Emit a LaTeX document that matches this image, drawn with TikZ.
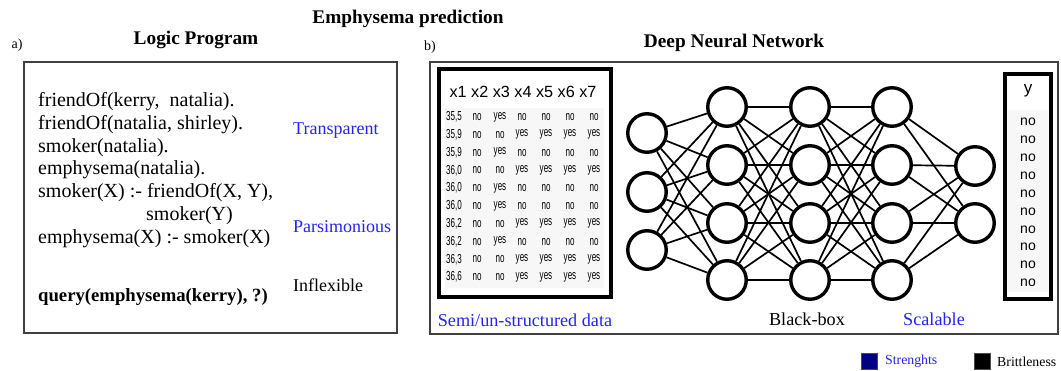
\documentclass[tikz,border=0pt]{standalone}
\usepackage{fontspec}
\setmainfont{Liberation Serif}
\newfontfamily\tabfont{Liberation Sans}
\definecolor{strength}{RGB}{35,35,245}
\definecolor{navybox}{RGB}{0,0,130}
\definecolor{cellbg}{RGB}{247,247,247}
\tikzset{
  title/.style={font=\bfseries\fontsize{19.3}{22}\selectfont, inner sep=0pt},
  panellabel/.style={font=\fontsize{14}{16}\selectfont, inner sep=0pt},
  panel/.style={draw=black!75, line width=1.1pt},
  code/.style={font=\fontsize{20}{23}\selectfont, anchor=west, inner sep=0pt},
  tag/.style={font=\fontsize{18}{21}\selectfont, anchor=west, inner sep=0pt},
  good/.style={tag, text=strength},
  datafrm/.style={draw=black, line width=3.6pt},
  hdr/.style={font=\tabfont\fontsize{16.2}{19}\selectfont, inner sep=0pt},
  cell/.style={font=\tabfont\fontsize{13}{15}\selectfont, inner sep=0pt, xscale=0.62},
  ycell/.style={font=\tabfont\fontsize{14}{16}\selectfont, inner sep=0pt},
  neuron/.style={circle, draw=black, fill=white, line width=3.4pt, minimum size=38.5pt, inner sep=0pt},
  synapse/.style={line width=1.7pt},
  caption/.style={font=\fontsize{18.2}{21}\selectfont, inner sep=0pt},
  legendsq/.style={draw=black!70, line width=0.6pt, minimum size=16pt, inner sep=0pt},
  legendtxt/.style={font=\fontsize{13.8}{16}\selectfont, anchor=west, inner sep=0pt}
}
\begin{document}
\begin{tikzpicture}[x=1pt, y=-1pt]
\useasboundingbox (0,0) rectangle (1061,371);

% headings
\node[title] (head) at (408,19) {Emphysema prediction};
\node[panellabel] (la) at (17,45) {a)};
\node[title] (lptitle) at (196,40) {Logic Program};
\node[panellabel] (lb) at (430,47) {b)};
\node[title] (dnntitle) at (734,43) {Deep Neural Network};

% panel a: logic program
\draw[panel] (24,62) rectangle (397,333);
\node[code] (c1) at (38,102) {friendOf(kerry,\ \ natalia).};
\node[code] (c2) at (38,125) {friendOf(natalia, shirley).};
\node[code] (c3) at (38,148) {smoker(natalia).};
\node[code] (c4) at (38,170) {emphysema(natalia).};
\node[code] (c5) at (38,193) {smoker(X) :- friendOf(X, Y),};
\node[code] (c6) at (146,216) {smoker(Y)};
\node[code] (c7) at (38,239) {emphysema(X) :- smoker(X)};
\node[code, font=\bfseries\fontsize{18.7}{22}\selectfont] (q) at (38,297) {query(emphysema(kerry), ?)};
\node[good] (transp) at (293,131) {Transparent};
\node[good] (pars) at (293,227) {Parsimonious};
\node[tag] (infl) at (293,285) {Inflexible};

% panel b: deep neural network
\draw[panel] (430,62) rectangle (1058,334);

% input data table
\fill[cellbg] (445,108) rectangle (604,288);
\draw[datafrm] (439,69) rectangle (611,297);
\node[hdr] (hx) at (523,92) {x1 x2 x3 x4 x5 x6 x7};
\foreach \r/\a/\b/\c/\d/\e/\f [count=\i from 0] in {
  35{,}5/no/yes/no/no/no/no,
  35{,}9/no/no/yes/yes/yes/yes,
  35{,}9/no/yes/no/no/no/no,
  36{,}0/no/no/yes/yes/yes/yes,
  36{,}0/no/yes/no/no/no/no,
  36{,}0/no/yes/no/no/no/no,
  36{,}2/no/no/yes/yes/yes/yes,
  36{,}2/no/yes/no/no/no/no,
  36{,}3/no/no/yes/yes/yes/yes,
  36{,}6/no/no/yes/yes/yes/yes}{
  \pgfmathsetmacro{\yy}{117+17.8*\i}
  \node[cell] (r\i c1) at (454,\yy) {\r};
  \node[cell] (r\i c2) at (477,\yy) {\a};
  \node[cell] (r\i c3) at (500,\yy) {\b};
  \node[cell] (r\i c4) at (522,\yy) {\c};
  \node[cell] (r\i c5) at (546,\yy) {\d};
  \node[cell] (r\i c6) at (570,\yy) {\e};
  \node[cell] (r\i c7) at (594,\yy) {\f};
}
\node[caption, text=strength] (semi) at (525,320) {Semi/un-structured data};

% network layers
\foreach \j/\yy in {1/133, 2/192, 3/250} \node[neuron] (a\j) at (647,\yy) {};
\foreach \j/\yy in {1/107, 2/165, 3/223, 4/280} {
  \node[neuron] (b\j) at (727,\yy) {};
  \node[neuron] (c\j) at (810,\yy) {};
  \node[neuron] (d\j) at (892,\yy) {};
}
\foreach \j/\yy in {1/166, 2/223} \node[neuron] (e\j) at (975,\yy) {};

% connections between consecutive layers
\foreach \s in {1,2,3} \foreach \t in {1,2,3,4} \draw[synapse] (a\s) -- (b\t);
\foreach \s in {1,2,3,4} \foreach \t in {1,2,3,4} {
  \draw[synapse] (b\s) -- (c\t);
  \draw[synapse] (c\s) -- (d\t);
}
\foreach \s in {1,2,3,4} \foreach \t in {1,2} \draw[synapse] (d\s) -- (e\t);

\node[caption] (bbox) at (807,319) {Black-box};
\node[caption, text=strength] (scal) at (934,319) {Scalable};

% output column
\fill[cellbg] (1008,110) rectangle (1048,292);
\draw[datafrm] (1005,74) rectangle (1051,299);
\node[hdr, font=\tabfont\fontsize{17}{20}\selectfont] (hy) at (1028,91) {y};
\foreach \i in {0,...,9} {
  \pgfmathsetmacro{\yy}{122+17.9*\i}
  \node[ycell] (y\i) at (1028,\yy) {no};
}

% legend
\node[legendsq, fill=navybox] (ls) at (869,361.5) {};
\node[legendtxt, text=strength] (lst) at (885,361.5) {Strenghts};
\node[legendsq, fill=black] (lb2) at (982,361.5) {};
\node[legendtxt] (lbt) at (997,361.5) {Brittleness};
\end{tikzpicture}
\end{document}
